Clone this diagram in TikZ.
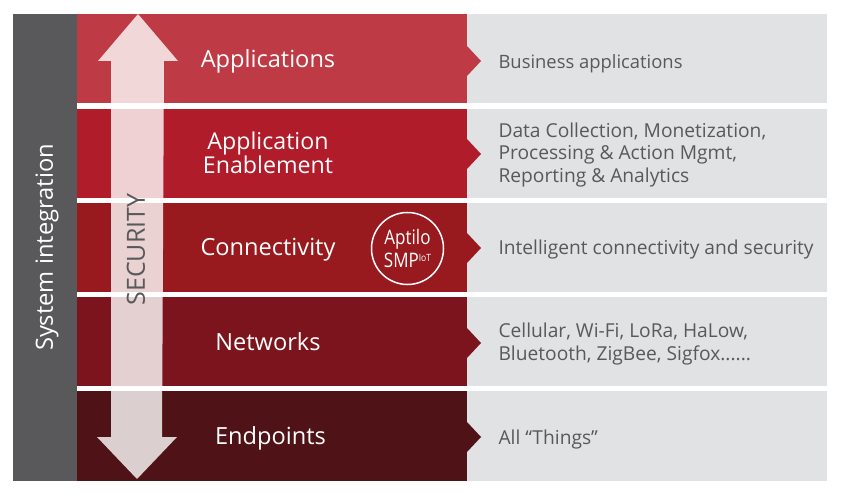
\documentclass[tikz,border=0pt]{standalone}
\usepackage{fontspec}
\setmainfont{Open Sans}
\newfontfamily\badgefont[FakeStretch=0.85]{Open Sans}
\usepackage{tikz}
\usetikzlibrary{shapes,arrows}
\definecolor{rowA}{HTML}{BE3A44}
\definecolor{rowB}{HTML}{B01C2A}
\definecolor{rowC}{HTML}{981A1E}
\definecolor{rowD}{HTML}{7B141C}
\definecolor{rowE}{HTML}{4F1216}
\definecolor{sidegray}{HTML}{59595B}
\definecolor{boxgray}{HTML}{E1E2E4}
\definecolor{textgray}{HTML}{58595B}
\tikzstyle{layer} = [font=\fontsize{23.6}{23}\selectfont, text=white, align=center]
\tikzstyle{desc} = [font=\fontsize{19.2}{22.3}\selectfont, text=textgray, align=left, anchor=west]
\begin{document}
\begin{tikzpicture}[x=1pt,y=-1pt]
	\useasboundingbox (0,0) rectangle (845,494);
	
	% ------------------- Left bar and right panel ------------------- %
	\fill[sidegray] (13,14) rectangle (77,481);
	\fill[boxgray] (467,14) rectangle (827,481);
	
	% ------------------- Red layers + chevrons ------------------- %
	\fill[rowA] (77,14) rectangle (467,103);
	\fill[rowA] (467,46) -- (481,61) -- (467,76) -- cycle;
	\fill[rowB] (77,103) rectangle (467,203);
	\fill[rowB] (467,139) -- (481,154) -- (467,169) -- cycle;
	\fill[rowC] (77,203) rectangle (467,292);
	\fill[rowC] (467,233) -- (481,248) -- (467,263) -- cycle;
	\fill[rowD] (77,292) rectangle (467,391);
	\fill[rowD] (467,328) -- (481,343) -- (467,358) -- cycle;
	\fill[rowE] (77,391) rectangle (467,481);
	\fill[rowE] (467,422) -- (481,437) -- (467,452) -- cycle;
	
	% ------------------- Security arrow ------------------- %
	\fill[white,fill opacity=0.8] (138,14) -- (178,61) -- (164,61) -- (162,437) -- (177,437)
		-- (137,479) -- (97,437) -- (111,437) -- (111,61) -- (98,61) -- cycle;
	
	% ------------------- White gaps ------------------- %
	\fill[white] (77,103) rectangle (827,109);
	\fill[white] (77,198) rectangle (827,203);
	\fill[white] (77,292) rectangle (827,297);
	\fill[white] (77,386) rectangle (827,391);
	
	% ------------------- Text ------------------- %
	\node[rotate=90,text=white,font=\fontsize{23.7}{24}\selectfont] (sysint) at (47,247.5) {System integration};
	\node[rotate=90,text=textgray,font=\fontsize{25}{26}\selectfont] (security) at (136,249.5) {SECURITY};
	
	\node[layer] (apps) at (268,61) {Applications};
	\node[layer,font=\fontsize{23.2}{23}\selectfont] (enable) at (268,153) {Application\\Enablement};
	\node[layer] (conn) at (268,249.5) {Connectivity};
	\node[layer] (nets) at (268,341.5) {Networks};
	\node[layer] (ends) at (270.5,438) {Endpoints};
	
	\node[desc,font=\fontsize{18.4}{22.3}\selectfont] (appsdesc) at (495,63.5) {Business applications};
	\node[desc] (enabledesc) at (495,155) {Data Collection, Monetization,\\Processing \& Action Mgmt,\\Reporting \& Analytics};
	\node[desc] (conndesc) at (495,250) {Intelligent connectivity and security};
	\node[desc] (netsdesc) at (495,344) {Cellular, Wi-Fi, LoRa, HaLow,\\Bluetooth, ZigBee, Sigfox......};
	\node[desc] (endsdesc) at (495,440) {All “Things”};
	
	% ------------------- Aptilo badge ------------------- %
	\node[circle,draw=white,line width=1.5pt,minimum size=72pt,inner sep=0pt,text=white,align=center,
		font=\badgefont\fontsize{20}{23}\selectfont] (aptilo) at (407.5,248.5) {Aptilo\\SMP\raisebox{6.5pt}{\fontsize{10}{10}\selectfont IoT}};
\end{tikzpicture}
\end{document}
